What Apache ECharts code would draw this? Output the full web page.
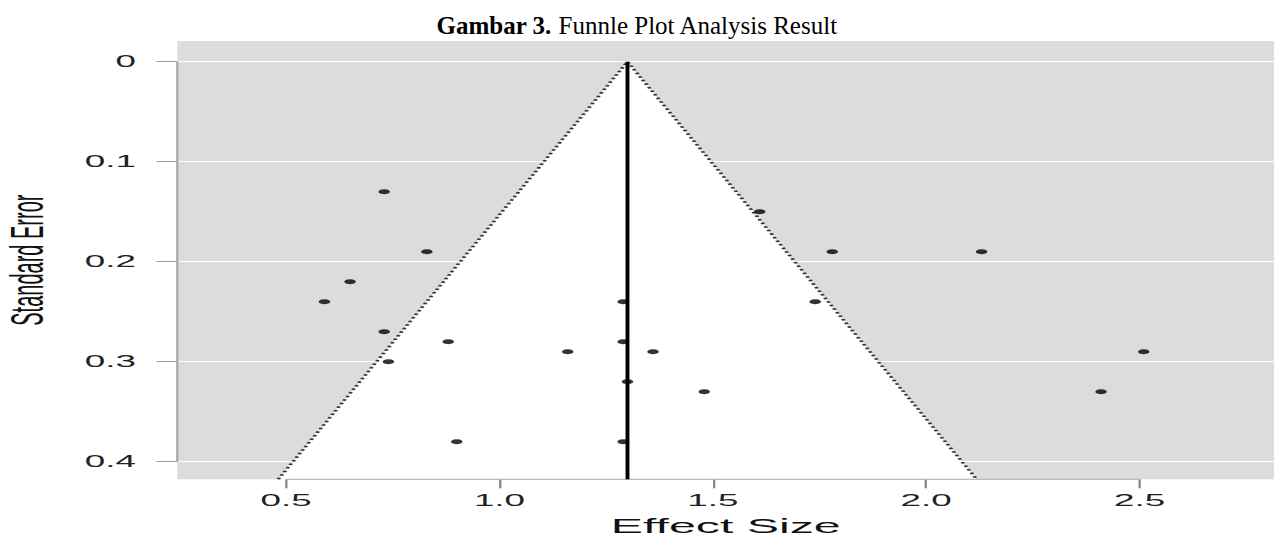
<!DOCTYPE html>
<html>
<head>
<meta charset="utf-8">
<title>Funnel plot</title>
<script src="https://cdn.jsdelivr.net/npm/echarts@6/dist/echarts.min.js"></script>
<style>
html, body { margin: 0; padding: 0; background: #fff; overflow: hidden; }
#wrap { width: 1274px; height: 540px; position: relative; overflow: hidden; }
#main { position: absolute; left: 0; top: 0; height: 540px; transform-origin: 0 0; }
</style>
</head>
<body>
<div id="wrap"><div id="main"></div></div>
<script>
// the original figure is a base-R plot pasted stretched sideways, so the chart is drawn narrow and stretched
var stretch = 2.3;

// studies (effect size, standard error)
var effectSize = [0.73, 0.83, 0.65, 0.59, 0.73, 0.88, 1.16, 0.74, 1.29, 1.29, 1.30,
                  1.61, 1.78, 2.13, 1.74, 1.36, 1.48, 2.51, 2.41, 0.90, 1.29];
var stdError   = [0.13, 0.19, 0.22, 0.24, 0.27, 0.28, 0.29, 0.30, 0.24, 0.28, 0.32,
                  0.15, 0.19, 0.19, 0.24, 0.29, 0.33, 0.29, 0.33, 0.38, 0.38];

var pooled = 1.30;   // summary effect (vertical line)
var zCrit = 1.96;    // 95% pseudo confidence limits

var xTicks = [0.5, 1.0, 1.5, 2.0, 2.5];
var xTickLabels = ['0.5', '1.0', '1.5', '2.0', '2.5'];
var yTicks = [0, 0.1, 0.2, 0.3, 0.4];
var yTickLabels = ['0', '0.1', '0.2', '0.3', '0.4'];

var xMin = 0.245, xMax = 2.8156;
var yMin = -0.0207, yMax = 0.4176;

function pickLabel(vals, labels, v) {
    for (var i = 0; i < vals.length; i++) {
        if (Math.abs(vals[i] - v) < 1e-9) return labels[i];
    }
    return '';
}

var pts = [];
for (var i = 0; i < effectSize.length; i++) {
    pts.push([effectSize[i], stdError[i]]);
}

var dom = document.getElementById('main');
dom.style.width = (1274 / stretch) + 'px';
dom.style.transform = 'scaleX(' + stretch + ')';

var myChart = echarts.init(dom, null, { renderer: 'svg' });

var option = {
    animation: false,
    backgroundColor: '#fff',
    grid: {
        show: true,
        backgroundColor: '#dcdcdc',
        borderWidth: 0,
        left: 177.3 / stretch,
        right: 0,
        top: 41,
        bottom: 60.7,
        outerBoundsMode: 'none'
    },
    graphic: [{
        type: 'text',
        x: 637 / stretch,
        y: 13,
        scaleX: 1 / stretch,
        z: 10,
        style: {
            text: '{b|Gambar 3.} Funnle Plot Analysis Result',
            textAlign: 'center',
            textVerticalAlign: 'top',
            fill: '#000',
            font: '25px "Liberation Serif"',
            rich: {
                b: { fontWeight: 'bold', fontSize: 25, fontFamily: 'Liberation Serif', fill: '#000' }
            }
        }
    }],
    xAxis: {
        type: 'value',
        position: 'bottom',
        min: xMin,
        max: xMax,
        name: 'Effect Size',
        nameLocation: 'middle',
        nameGap: 36,
        nameTextStyle: { fontFamily: 'Liberation Sans', fontSize: 21, color: '#111', lineHeight: 21 },
        axisLine: { show: false, onZero: false },
        axisTick: { show: true, length: 9, customValues: xTicks, lineStyle: { color: '#888' } },
        axisLabel: {
            customValues: xTicks,
            margin: 13,
            fontFamily: 'Liberation Sans',
            fontSize: 16,
            color: '#222',
            formatter: function (v) { return pickLabel(xTicks, xTickLabels, v); }
        },
        splitLine: { show: false }
    },
    yAxis: {
        type: 'value',
        inverse: true,
        min: yMin,
        max: yMax,
        name: 'Standard Error',
        nameLocation: 'middle',
        nameGap: 55,
        nameTextStyle: { fontFamily: 'Liberation Sans', fontSize: 20, color: '#111' },
        axisLine: { show: false, onZero: false },
        axisTick: { show: true, length: 9, customValues: yTicks, lineStyle: { color: '#999' } },
        axisLabel: {
            customValues: yTicks,
            margin: 18,
            fontFamily: 'Liberation Sans',
            fontSize: 16,
            color: '#222',
            formatter: function (v) { return pickLabel(yTicks, yTickLabels, v); }
        },
        splitLine: { show: true, lineStyle: { color: '#fff', width: 1 } }
    },
    series: [
        {
            // white region inside the pseudo confidence funnel
            type: 'custom',
            z: 1,
            silent: true,
            data: [[pooled, yMax]],
            renderItem: function (params, api) {
                var c = api.value(0), se = api.value(1);
                var top = api.coord([c, 0]);
                var bl = api.coord([c - zCrit * se, se]);
                var br = api.coord([c + zCrit * se, se]);
                return {
                    type: 'polygon',
                    shape: { points: [top, bl, br] },
                    style: { fill: '#fff' }
                };
            }
        },
        {
            // axis lines drawn from first to last tick, like base R
            type: 'custom',
            z: 2,
            silent: true,
            data: [[0]],
            renderItem: function (params, api) {
                var a = api.coord([xTicks[0], yMax]);
                var b = api.coord([xTicks[xTicks.length - 1], yMax]);
                var c = api.coord([xMin, yTicks[0]]);
                var d = api.coord([xMin, yTicks[yTicks.length - 1]]);
                return {
                    type: 'group',
                    children: [
                        { type: 'line', shape: { x1: a[0], y1: a[1], x2: b[0], y2: b[1] }, style: { stroke: '#aaa', lineWidth: 1 } },
                        { type: 'line', shape: { x1: c[0], y1: c[1], x2: d[0], y2: d[1] }, style: { stroke: '#aaa', lineWidth: 1 } }
                    ]
                };
            }
        },
        {
            type: 'line',
            z: 3,
            silent: true,
            symbol: 'none',
            data: [[pooled - zCrit * yMax, yMax], [pooled, 0], [pooled + zCrit * yMax, yMax]],
            lineStyle: { color: '#333', width: 1.6, type: [1.6, 2.2] }
        },
        {
            type: 'line',
            z: 4,
            silent: true,
            symbol: 'none',
            data: [[pooled, 0], [pooled, yMax]],
            lineStyle: { color: '#000', width: 1.7 }
        },
        {
            type: 'scatter',
            z: 5,
            symbol: 'circle',
            symbolSize: 5,
            itemStyle: { color: '#000' },
            data: pts
        }
    ]
};

myChart.setOption(option);
</script>
</body>
</html>
